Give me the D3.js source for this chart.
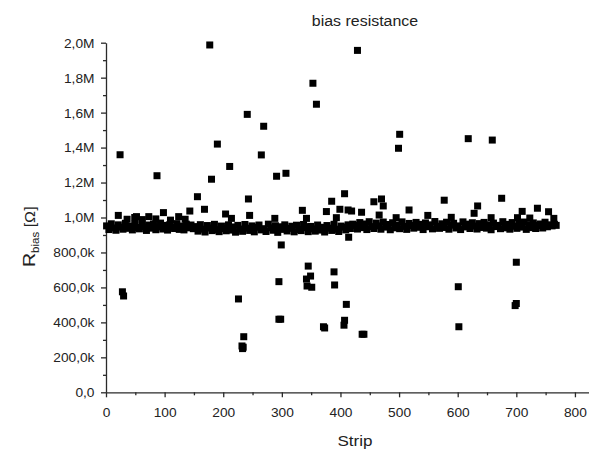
<!DOCTYPE html>
<html>
<head>
<meta charset="utf-8">
<script src="https://cdn.jsdelivr.net/npm/d3@7"></script>
<style>
  body { margin: 0; background: #fff; }
  svg { display: block; }
  text { font-family: "Liberation Sans", Arial, Helvetica, sans-serif; fill: #222; }
</style>
</head>
<body>
<svg id="chart" width="589" height="449"></svg>
<script>
// Bias resistance per strip, values in kΩ.

// Main population: one entry every 4th strip, starting with strip 1.
const bandFirstStrip = 1;
const bandStripStep = 4;
const bandValues = [
  952, 931, 964, 940, 927, 958, 945, 933, 967, 938, 950, 929, 961, 943, 935, 966, 948, 926, 957, 939,
  963, 930, 946, 968, 934, 955, 928, 960, 944, 937, 965, 932, 951, 929, 962, 941, 957, 936,
  948, 922, 959, 933, 917, 954, 940, 925, 961, 930, 919, 951, 937, 924, 958, 928, 946, 916, 955, 934,
  921, 960, 939, 926, 952, 918, 944, 957, 929, 936, 920, 962, 941, 927, 953, 915, 947, 932, 958, 923,
  938, 950, 918, 956, 931, 925, 960, 942, 919, 949, 935, 922, 957, 928, 944, 917, 954, 939, 926, 961,
  933, 920, 951, 945, 929, 958, 937, 962,
  955, 934, 971, 942, 963, 931, 976, 948, 937, 968, 952, 933, 974, 945, 960, 930, 970, 941, 957, 936,
  975, 949, 932, 966, 954, 939, 972, 944, 961, 931, 969, 947, 958, 935, 977, 950, 938, 964, 943, 973,
  933, 956, 967, 940, 952, 931, 975, 946, 962, 937, 970, 951, 934, 965, 943, 972, 939, 958, 930, 968,
  948, 955, 936, 976, 941, 961, 933, 971, 950, 938, 966, 945, 974, 932, 959, 942, 969, 937, 954, 963,
  940, 973, 947, 958, 952, 961
];

// Strips slightly above the main population (near 1 MΩ).
const bumpStrips = [21, 36, 49, 52, 62, 73, 85, 98, 110, 124, 135, 143, 168, 204, 214, 245, 288, 335, 342, 376,
                    393, 399, 413, 419, 436, 466, 473, 495, 517, 549, 589, 628, 634, 657, 702, 710, 723, 736, 755, 764, 768];
const bumpValues = [1012, 990, 1000, 1005, 988, 1005, 992, 1028, 985, 1005, 990, 1037, 1047, 1020, 995, 1012, 995, 1041, 995, 1034,
                    999, 1047, 1043, 1037, 1030, 1014, 1066, 999, 1043, 1012, 1001, 1024, 1066, 999, 999, 1035, 997, 1053, 1033, 995, 955];

// High-resistance outliers.
const highStrips = [24, 87, 156, 177, 180, 190, 211, 241, 243, 265, 269, 291, 307, 353, 359, 385, 407, 429, 457, 470,
                    499, 501, 577, 618, 659, 675];
const highValues = [1359, 1239, 1119, 1987, 1219, 1420, 1292, 1590, 1106, 1358, 1522, 1236, 1253, 1768, 1648, 1093, 1136, 1956, 1090, 1106,
                    1396, 1476, 1099, 1451, 1443, 1110];

// Low-resistance outliers.
const lowStrips = [28, 30, 226, 232, 233, 234, 235, 295, 295, 298, 299, 342, 343, 345, 349, 351, 371, 373, 389, 390,
                   406, 407, 410, 414, 437, 440, 601, 602, 698, 700, 700];
const lowValues = [575, 551, 534, 265, 250, 258, 318, 633, 418, 418, 843, 648, 608, 722, 665, 601, 375, 368, 689, 614,
                   384, 412, 503, 887, 332, 332, 604, 375, 496, 508, 744];

// Axis ticks
const xTickValues = [0, 100, 200, 300, 400, 500, 600, 700, 800];
const xMinorTicks = [50, 150, 250, 350, 450, 550, 650, 750];
const yTickValues = [0, 200, 400, 600, 800, 1000, 1200, 1400, 1600, 1800, 2000];
const yTickLabels = ["0,0", "200,0k", "400,0k", "600,0k", "800,0k", "1,0M", "1,2M", "1,4M", "1,6M", "1,8M", "2,0M"];
const yMinorTicks = [100, 300, 500, 700, 900, 1100, 1300, 1500, 1700, 1900];

const svg = d3.select("#chart");
const TEXT_SX = 1.1;

const x = d3.scaleLinear().domain([0, 824]).range([106, 589]);
const y = d3.scaleLinear().domain([0, 2000]).range([392.3, 42.7]);

// Collect all points
const points = [];
bandValues.forEach((v, i) => points.push({ s: bandFirstStrip + i * bandStripStep, v }));
bumpStrips.forEach((s, i) => points.push({ s, v: bumpValues[i] }));
highStrips.forEach((s, i) => points.push({ s, v: highValues[i] }));
lowStrips.forEach((s, i) => points.push({ s, v: lowValues[i] }));

// Axes
const axisColor = "#2a2a2a";
const gx = svg.append("g").attr("transform", `translate(0,${y(0)})`)
  .call(d3.axisBottom(x).tickValues(xTickValues).tickSize(5).tickSizeOuter(0).tickPadding(11).tickFormat(d3.format("d")));
svg.append("g").attr("transform", `translate(0,${y(0)})`)
  .call(d3.axisBottom(x).tickValues(xMinorTicks).tickSize(3).tickSizeOuter(0).tickFormat(""))
  .call(g => g.select(".domain").remove());

const gy = svg.append("g").attr("transform", `translate(${x(0)},0)`)
  .call(d3.axisLeft(y).tickValues(yTickValues).tickSize(5).tickSizeOuter(0).tickPadding(6.5)
    .tickFormat((d, i) => yTickLabels[i]));
svg.append("g").attr("transform", `translate(${x(0)},0)`)
  .call(d3.axisLeft(y).tickValues(yMinorTicks).tickSize(3).tickSizeOuter(0).tickFormat(""))
  .call(g => g.select(".domain").remove());

svg.selectAll(".domain, .tick line").attr("stroke", axisColor).attr("stroke-width", 1.3);
[gx, gy].forEach(g => g.selectAll(".tick text")
  .attr("font-size", 12.5)
  .attr("font-family", '"Liberation Sans", Arial, sans-serif')
  .attr("fill", "#2a2a2a"));
gx.selectAll(".tick text").attr("transform", `scale(${TEXT_SX},1)`);
gy.selectAll(".tick text").attr("transform", `scale(${TEXT_SX},1)`).attr("x", -11.5 / TEXT_SX).attr("dy", "0.35em");

// Markers
svg.append("g").selectAll("rect").data(points).join("rect")
  .attr("x", d => x(d.s) - 3.5)
  .attr("y", d => y(d.v) - 3.5)
  .attr("width", 7)
  .attr("height", 7)
  .attr("fill", "#000");

// Title
svg.append("text")
  .attr("transform", `translate(365,25.5) scale(${TEXT_SX},1)`)
  .attr("text-anchor", "middle")
  .attr("font-size", 14.5)
  .text("bias resistance");

// X axis title
svg.append("text")
  .attr("transform", `translate(355,446) scale(${TEXT_SX},1)`)
  .attr("text-anchor", "middle")
  .attr("font-size", 15.5)
  .text("Strip");

// Y axis title: R with subscript "bias" and unit
const yt = svg.append("text")
  .attr("transform", `translate(35,267) rotate(-90) scale(1.15,1)`)
  .attr("text-anchor", "start");
yt.append("tspan").attr("font-size", 17).text("R");
yt.append("tspan").attr("font-size", 10).attr("dy", 4).text("bias");
yt.append("tspan").attr("font-size", 14).attr("dy", -4).text(" [Ω]");
</script>
</body>
</html>
